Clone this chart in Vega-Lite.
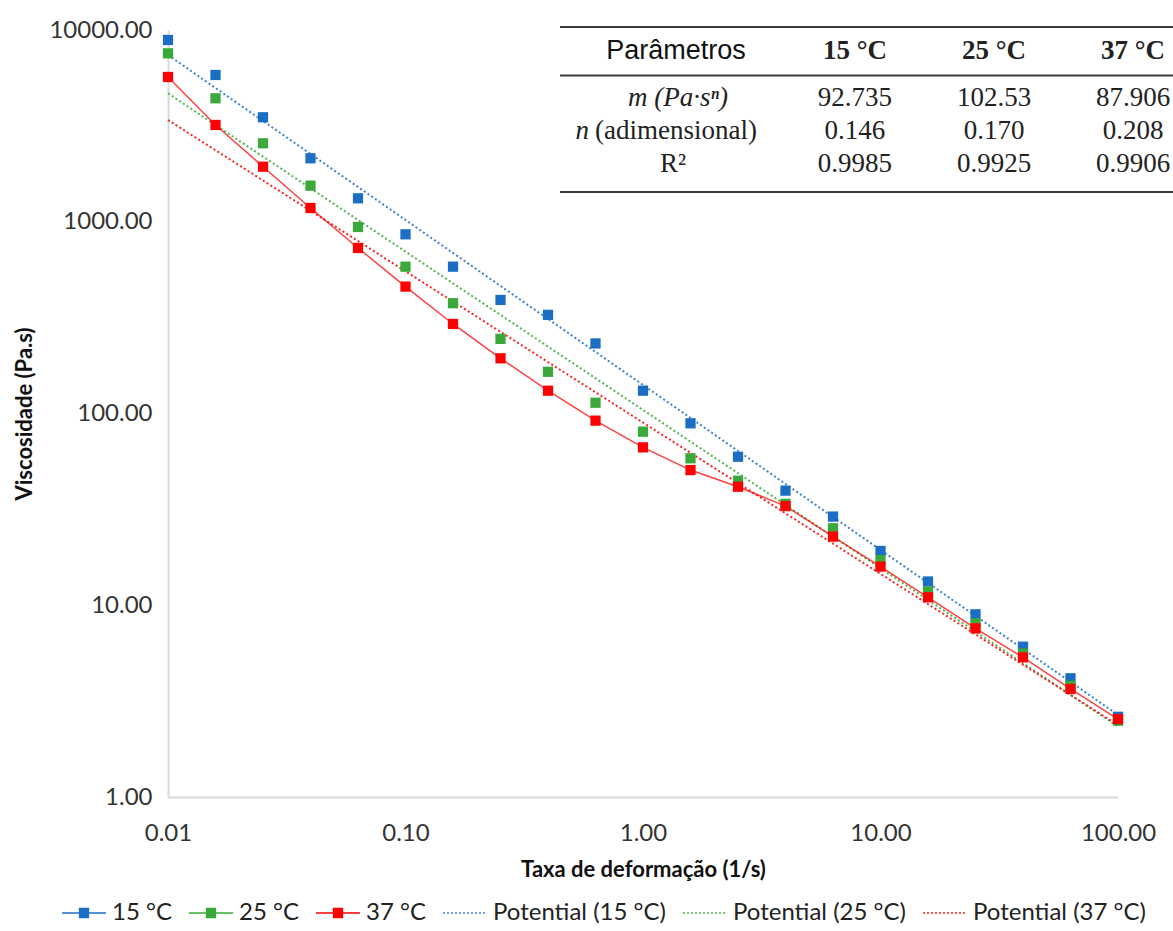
{
  "$schema": "https://vega.github.io/schema/vega-lite/v6.json",
  "width": 950,
  "height": 767,
  "autosize": {"type": "none"},
  "padding": {"left": 168, "top": 30, "right": 55, "bottom": 134},
  "background": "white",
  "config": {"view": {"stroke": null}, "font": "Lato"},
  "layer": [
    {
      "data": {
        "values": [
          {"serie": "Potential (15 °C)", "taxa": 0.01, "visc": 7410},
          {"serie": "Potential (15 °C)", "taxa": 100, "visc": 2.68},
          {"serie": "Potential (25 °C)", "taxa": 0.01, "visc": 4677},
          {"serie": "Potential (25 °C)", "taxa": 100, "visc": 2.33},
          {"serie": "Potential (37 °C)", "taxa": 0.01, "visc": 3394},
          {"serie": "Potential (37 °C)", "taxa": 100, "visc": 2.37},

          {"serie": "15 °C", "taxa": 0.01, "visc": 8870},
          {"serie": "15 °C", "taxa": 0.01585, "visc": 5827},
          {"serie": "15 °C", "taxa": 0.02512, "visc": 3506},
          {"serie": "15 °C", "taxa": 0.03981, "visc": 2143},
          {"serie": "15 °C", "taxa": 0.0631, "visc": 1325},
          {"serie": "15 °C", "taxa": 0.1, "visc": 860},
          {"serie": "15 °C", "taxa": 0.1585, "visc": 583},
          {"serie": "15 °C", "taxa": 0.2512, "visc": 391},
          {"serie": "15 °C", "taxa": 0.3981, "visc": 327},
          {"serie": "15 °C", "taxa": 0.631, "visc": 232},
          {"serie": "15 °C", "taxa": 1, "visc": 131.5},
          {"serie": "15 °C", "taxa": 1.585, "visc": 88.9},
          {"serie": "15 °C", "taxa": 2.512, "visc": 59.5},
          {"serie": "15 °C", "taxa": 3.981, "visc": 39.6},
          {"serie": "15 °C", "taxa": 6.31, "visc": 29.0},
          {"serie": "15 °C", "taxa": 10, "visc": 19.2},
          {"serie": "15 °C", "taxa": 15.85, "visc": 13.3},
          {"serie": "15 °C", "taxa": 25.12, "visc": 8.97},
          {"serie": "15 °C", "taxa": 39.81, "visc": 6.08},
          {"serie": "15 °C", "taxa": 63.1, "visc": 4.16},
          {"serie": "15 °C", "taxa": 100, "visc": 2.62},

          {"serie": "25 °C", "taxa": 0.01, "visc": 7557},
          {"serie": "25 °C", "taxa": 0.01585, "visc": 4404},
          {"serie": "25 °C", "taxa": 0.02512, "visc": 2566},
          {"serie": "25 °C", "taxa": 0.03981, "visc": 1542},
          {"serie": "25 °C", "taxa": 0.0631, "visc": 939},
          {"serie": "25 °C", "taxa": 0.1, "visc": 583},
          {"serie": "25 °C", "taxa": 0.1585, "visc": 376},
          {"serie": "25 °C", "taxa": 0.2512, "visc": 245},
          {"serie": "25 °C", "taxa": 0.3981, "visc": 165},
          {"serie": "25 °C", "taxa": 0.631, "visc": 113.8},
          {"serie": "25 °C", "taxa": 1, "visc": 80.4},
          {"serie": "25 °C", "taxa": 1.585, "visc": 58.4},
          {"serie": "25 °C", "taxa": 2.512, "visc": 44.6},
          {"serie": "25 °C", "taxa": 3.981, "visc": 33.8},
          {"serie": "25 °C", "taxa": 6.31, "visc": 25.2},
          {"serie": "25 °C", "taxa": 10, "visc": 17.2},
          {"serie": "25 °C", "taxa": 15.85, "visc": 11.8},
          {"serie": "25 °C", "taxa": 25.12, "visc": 8.05},
          {"serie": "25 °C", "taxa": 39.81, "visc": 5.6},
          {"serie": "25 °C", "taxa": 63.1, "visc": 3.8},
          {"serie": "25 °C", "taxa": 100, "visc": 2.5},

          {"serie": "37 °C", "taxa": 0.01, "visc": 5689},
          {"serie": "37 °C", "taxa": 0.01585, "visc": 3197},
          {"serie": "37 °C", "taxa": 0.02512, "visc": 1937},
          {"serie": "37 °C", "taxa": 0.03981, "visc": 1180},
          {"serie": "37 °C", "taxa": 0.0631, "visc": 730},
          {"serie": "37 °C", "taxa": 0.1, "visc": 459},
          {"serie": "37 °C", "taxa": 0.1585, "visc": 293},
          {"serie": "37 °C", "taxa": 0.2512, "visc": 194},
          {"serie": "37 °C", "taxa": 0.3981, "visc": 131.5},
          {"serie": "37 °C", "taxa": 0.631, "visc": 91.8},
          {"serie": "37 °C", "taxa": 1, "visc": 66.6},
          {"serie": "37 °C", "taxa": 1.585, "visc": 50.7},
          {"serie": "37 °C", "taxa": 2.512, "visc": 41.5},
          {"serie": "37 °C", "taxa": 3.981, "visc": 32.9},
          {"serie": "37 °C", "taxa": 6.31, "visc": 22.8},
          {"serie": "37 °C", "taxa": 10, "visc": 15.9},
          {"serie": "37 °C", "taxa": 15.85, "visc": 11.0},
          {"serie": "37 °C", "taxa": 25.12, "visc": 7.58},
          {"serie": "37 °C", "taxa": 39.81, "visc": 5.35},
          {"serie": "37 °C", "taxa": 63.1, "visc": 3.66},
          {"serie": "37 °C", "taxa": 100, "visc": 2.55}
        ]
      },
      "encoding": {
        "x": {
          "field": "taxa",
          "type": "quantitative",
          "scale": {"type": "log", "domain": [0.01, 100], "nice": false},
          "axis": {
            "title": "Taxa de deformação (1/s)",
            "values": [0.01, 0.1, 1, 10, 100],
            "format": ".2f",
            "grid": false,
            "ticks": false,
            "domainColor": "#d9d9d9",
            "domainWidth": 2,
            "labelFont": "Lato",
            "labelFontSize": 24,
            "labelColor": "#333333",
            "labelPadding": 24,
            "labelFlush": false,
            "labelOverlap": false,
            "titleFont": "Lato",
            "titleFontSize": 22,
            "titleFontWeight": "bold",
            "titleColor": "#111111",
            "titlePadding": 14
          }
        },
        "y": {
          "field": "visc",
          "type": "quantitative",
          "scale": {"type": "log", "domain": [1, 10000], "nice": false},
          "axis": {
            "title": "Viscosidade (Pa.s)",
            "values": [1, 10, 100, 1000, 10000],
            "format": ".2f",
            "grid": false,
            "ticks": false,
            "domainColor": "#d9d9d9",
            "domainWidth": 2,
            "labelFont": "Lato",
            "labelFontSize": 24,
            "labelColor": "#333333",
            "labelPadding": 16,
            "labelOverlap": false,
            "titleFont": "Lato",
            "titleFontSize": 22,
            "titleFontWeight": "bold",
            "titleColor": "#111111",
            "titlePadding": 12
          }
        }
      },
      "layer": [
        {
          "transform": [{"filter": "indexof(datum.serie, 'Potential') === 0"}],
          "mark": {"type": "line", "strokeDash": [2, 2.5], "strokeWidth": 2},
          "encoding": {
            "color": {
              "field": "serie",
              "type": "nominal",
              "scale": {
                "domain": ["15 °C", "25 °C", "37 °C", "Potential (15 °C)", "Potential (25 °C)", "Potential (37 °C)"],
                "range": ["#1b6ec4", "#3aa83a", "#ff0000", "#3b82d6", "#52b552", "#ff2020"]
              },
              "legend": {
                "orient": "none",
                "legendX": -107,
                "legendY": 860,
                "direction": "horizontal",
                "title": null,
                "labelFont": "Lato",
                "labelFontSize": 24,
                "labelColor": "#222222",
                "labelLimit": 400,
                "symbolSize": 1936,
                "symbolStrokeWidth": 1.5,
                "columnPadding": 14,
                "labelOffset": 5,
                "encode": {
                  "symbols": {
                    "update": {
                      "shape": [
                        {"test": "indexof(datum.value, 'Potential') === 0", "value": "M-1,0H1"},
                        {"value": "M-1,0H1M-0.2,-0.2H0.2V0.2H-0.2Z"}
                      ],
                      "fill": [
                        {"test": "indexof(datum.value, 'Potential') === 0", "value": "transparent"},
                        {"scale": "color", "field": "value"}
                      ],
                      "stroke": {"scale": "color", "field": "value"},
                      "strokeDash": [
                        {"test": "indexof(datum.value, 'Potential') === 0", "value": [2, 2]},
                        {"value": [1, 0]}
                      ],
                      "opacity": {"value": 1}
                    }
                  }
                }
              }
            }
          }
        },
        {
          "transform": [{"filter": "datum.serie === '37 °C'"}],
          "mark": {"type": "line", "strokeWidth": 1.5, "opacity": 0.75},
          "encoding": {"color": {"field": "serie", "type": "nominal"}}
        },
        {
          "transform": [{"filter": "indexof(datum.serie, 'Potential') < 0"}],
          "mark": {"type": "square", "size": 105, "filled": true, "opacity": 1},
          "encoding": {"color": {"field": "serie", "type": "nominal"}}
        }
      ]
    },
    {
      "data": {
        "values": [
          {"tipo": "cabecalho", "linha": 0, "coluna": 0, "texto": "Parâmetros"},
          {"tipo": "cabecalho", "linha": 0, "coluna": 1, "texto": "15 °C"},
          {"tipo": "cabecalho", "linha": 0, "coluna": 2, "texto": "25 °C"},
          {"tipo": "cabecalho", "linha": 0, "coluna": 3, "texto": "37 °C"},
          {"tipo": "rotulo", "linha": 1, "coluna": 0, "texto": "m (Pa·sⁿ)"},
          {"tipo": "valor", "linha": 1, "coluna": 1, "texto": "92.735"},
          {"tipo": "valor", "linha": 1, "coluna": 2, "texto": "102.53"},
          {"tipo": "valor", "linha": 1, "coluna": 3, "texto": "87.906"},
          {"tipo": "rotulo-simbolo", "linha": 2, "coluna": 0, "texto": "n"},
          {"tipo": "rotulo-unidade", "linha": 2, "coluna": 0, "texto": "(adimensional)"},
          {"tipo": "valor", "linha": 2, "coluna": 1, "texto": "0.146"},
          {"tipo": "valor", "linha": 2, "coluna": 2, "texto": "0.170"},
          {"tipo": "valor", "linha": 2, "coluna": 3, "texto": "0.208"},
          {"tipo": "rotulo-r2", "linha": 3, "coluna": 0, "texto": "R²"},
          {"tipo": "valor", "linha": 3, "coluna": 1, "texto": "0.9985"},
          {"tipo": "valor", "linha": 3, "coluna": 2, "texto": "0.9925"},
          {"tipo": "valor", "linha": 3, "coluna": 3, "texto": "0.9906"}
        ]
      },
      "encoding": {
        "x": {
          "field": "coluna",
          "type": "quantitative",
          "scale": {"domain": [-3.942, 2.892], "nice": false, "zero": false},
          "axis": null
        },
        "y": {
          "field": "linha",
          "type": "quantitative",
          "scale": {"domain": [-1.015, 21.881], "nice": false, "zero": false, "reverse": true},
          "axis": null
        }
      },
      "layer": [
        {
          "data": {
            "values": [
              {"borda": "topo", "linha": -1.104, "inicio": -1.122, "fim": 3.288},
              {"borda": "cabecalho", "linha": 0.343, "inicio": -1.122, "fim": 3.288},
              {"borda": "base", "linha": 3.821, "inicio": -1.122, "fim": 3.288}
            ]
          },
          "mark": {"type": "rule", "color": "#3c3c3c", "strokeWidth": 2.2},
          "encoding": {
            "x": {"field": "inicio", "type": "quantitative"},
            "x2": {"field": "fim"},
            "y": {"field": "linha", "type": "quantitative"}
          }
        },
        {
          "transform": [{"filter": "datum.tipo === 'cabecalho' && datum.coluna === 0"}],
          "mark": {"type": "text", "font": "Liberation Sans", "fontSize": 27, "color": "#111111", "align": "center", "baseline": "middle", "dx": -40, "dy": -13},
          "encoding": {"text": {"field": "texto", "type": "nominal"}}
        },
        {
          "transform": [{"filter": "datum.tipo === 'cabecalho' && datum.coluna > 0"}],
          "mark": {"type": "text", "font": "Liberation Serif", "fontSize": 27, "fontWeight": "bold", "color": "#222222", "align": "center", "baseline": "middle", "dy": -13},
          "encoding": {"text": {"field": "texto", "type": "nominal"}}
        },
        {
          "transform": [{"filter": "datum.tipo === 'valor'"}],
          "mark": {"type": "text", "font": "Liberation Serif", "fontSize": 27, "color": "#222222", "align": "center", "baseline": "middle"},
          "encoding": {"text": {"field": "texto", "type": "nominal"}}
        },
        {
          "transform": [{"filter": "datum.tipo === 'rotulo'"}],
          "mark": {"type": "text", "font": "Liberation Serif", "fontSize": 27, "fontStyle": "italic", "color": "#222222", "align": "center", "baseline": "middle", "dx": -38},
          "encoding": {"text": {"field": "texto", "type": "nominal"}}
        },
        {
          "transform": [{"filter": "datum.tipo === 'rotulo-simbolo'"}],
          "mark": {"type": "text", "font": "Liberation Serif", "fontSize": 27, "fontStyle": "italic", "color": "#222222", "align": "right", "baseline": "middle", "dx": -127},
          "encoding": {"text": {"field": "texto", "type": "nominal"}}
        },
        {
          "transform": [{"filter": "datum.tipo === 'rotulo-unidade'"}],
          "mark": {"type": "text", "font": "Liberation Serif", "fontSize": 27, "color": "#222222", "align": "left", "baseline": "middle", "dx": -121},
          "encoding": {"text": {"field": "texto", "type": "nominal"}}
        },
        {
          "transform": [{"filter": "datum.tipo === 'rotulo-r2'"}],
          "mark": {"type": "text", "font": "Liberation Serif", "fontSize": 27, "color": "#222222", "align": "center", "baseline": "middle", "dx": -43},
          "encoding": {"text": {"field": "texto", "type": "nominal"}}
        }
      ]
    }
  ],
  "resolve": {"scale": {"x": "independent", "y": "independent"}}
}
